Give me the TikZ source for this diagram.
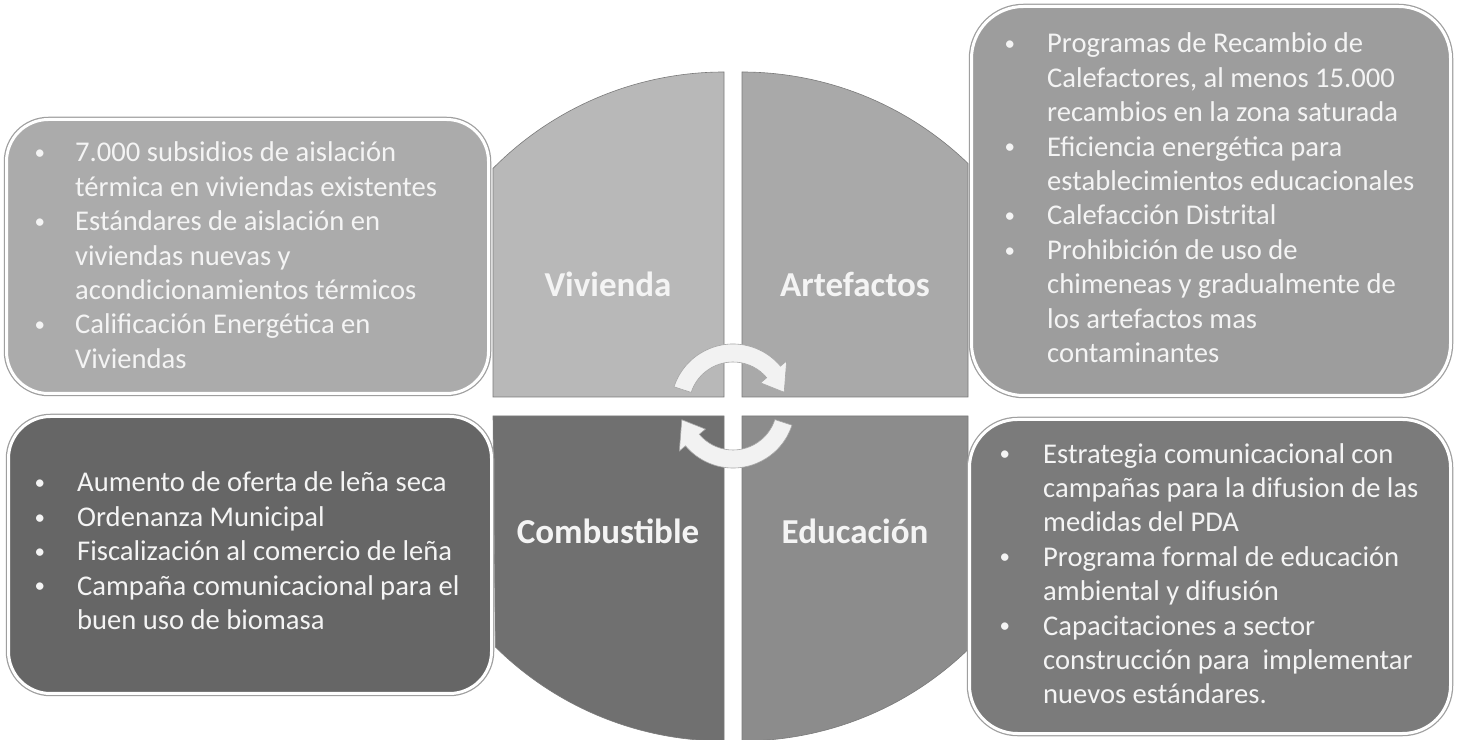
\documentclass[tikz,border=0pt]{standalone}
\usepackage{fontspec}
\setmainfont{Carlito}
\definecolor{qtl}{HTML}{B8B8B8}
\definecolor{qtr}{HTML}{A9A9A9}
\definecolor{qbl}{HTML}{707070}
\definecolor{qbr}{HTML}{8C8C8C}
\definecolor{btl}{HTML}{ABABAB}
\definecolor{btr}{HTML}{9D9D9D}
\definecolor{bbl}{HTML}{666666}
\definecolor{bbr}{HTML}{7B7B7B}
\definecolor{qedge}{HTML}{7A7A7A}
\definecolor{txt}{HTML}{F4F4F4}
\definecolor{arrowfill}{HTML}{F2F2F2}
\newlength{\bw}
\newcommand{\bi}{\makebox[\bw][l]{\hspace{1.5pt}\raisebox{2.2pt}{\fontsize{21}{21}\selectfont\textbullet}}}
\newcommand{\ii}{\hspace*{\bw}}
\tikzset{
  quad/.style={draw=qedge, line width=0.6pt},
  box/.style={draw=white, line width=3pt, rounded corners=42pt, inner sep=0pt,
    preaction={draw=gray!75, line width=5.5pt}},
  boxtext/.style={anchor=base west, align=left, text=txt, inner sep=0pt,
    font=\fontsize{28.6}{34.4}\selectfont},
  lab/.style={text=txt, font=\fontsize{35}{42}\selectfont\bfseries, inner sep=0pt},
  circarrow/.style={fill=arrowfill, draw=gray!70, line width=0.6pt}
}
\begin{document}
\begin{tikzpicture}[x=1pt,y=1pt]
\useasboundingbox (0,0) rectangle (1459,739);
\clip (0,0) rectangle (1459,739);
\fill[white] (0,0) rectangle (1459,739);

% quadrants
\filldraw[quad, fill=qtl] (724,342) -- (724,667) arc[start angle=90, end angle=135.3, radius=325] -- (493,342) -- cycle;
\filldraw[quad, fill=qtr] (742,342) -- (742,667) arc[start angle=90, end angle=45.94, radius=325] -- (968,342) -- cycle;
\filldraw[quad, fill=qbl] (724,323) -- (724,-2) arc[start angle=270, end angle=225.3, radius=325] -- (493,323) -- cycle;
\filldraw[quad, fill=qbr] (742,323) -- (742,-2) arc[start angle=-90, end angle=-45.94, radius=325] -- (968,323) -- cycle;

% boxes
\node[box, fill=btl, minimum width=482pt, minimum height=274pt] (boxV) at (247.5,482.5) {};
\node[box, fill=btr, minimum width=479pt, minimum height=389pt, rounded corners=52pt] (boxA) at (1211,538) {};
\node[box, fill=bbl, minimum width=483pt, minimum height=277pt] (boxC) at (250,184) {};
\node[box, fill=bbr, minimum width=481pt, minimum height=314pt, rounded corners=48pt] (boxE) at (1210,162.5) {};

% box texts (anchor = baseline of last line)
\setlength{\bw}{42pt}
\node[boxtext] (tV) at (33,370.6) {\bi 7.000 subsidios de aislación\\
\ii térmica en viviendas existentes\\
\bi Estándares de aislación en\\
\ii viviendas nuevas y\\
\ii acondicionamientos térmicos\\
\bi Calificación Energética en\\
\ii Viviendas};
\setlength{\bw}{44pt}
\node[boxtext] (tA) at (1003,376.4) {\bi Programas de Recambio de\\
\ii Calefactores, al menos 15.000\\
\ii recambios en la zona saturada\\
\bi Eficiencia energética para\\
\ii establecimientos educacionales\\
\bi Calefacción Distrital\\
\bi Prohibición de uso de\\
\ii chimeneas y gradualmente de\\
\ii los artefactos mas\\
\ii contaminantes};
\setlength{\bw}{44pt}
\node[boxtext] (tC) at (33,109.4) {\bi Aumento de oferta de leña seca\\
\bi Ordenanza Municipal\\
\bi Fiscalización al comercio de leña\\
\bi Campaña comunicacional para el\\
\ii buen uso de biomasa};
\setlength{\bw}{45pt}
\node[boxtext] (tE) at (998,35.2) {\bi Estrategia comunicacional con\\
\ii campañas para la difusion de las\\
\ii medidas del PDA\\
\bi Programa formal de educación\\
\ii ambiental y difusión\\
\bi Capacitaciones a sector\\
\ii construcción para\ \ implementar\\
\ii nuevos estándares.};

% quadrant labels
\node[lab] (lV) at (608,455) {Vivienda};
\node[lab] (lA) at (855,455) {Artefactos};
\node[lab] (lC) at (608,208) {Combustible};
\node[lab] (lE) at (855,208) {Educación};

% circular arrows
\begin{scope}[shift={(733,333)}]
\filldraw[circarrow] (162:62) arc[start angle=162, end angle=40, radius=62] -- (40:70) -- (15:53) -- (40:36) -- (40:44) arc[start angle=40, end angle=162, radius=44] -- cycle;
\filldraw[circarrow] (-18:62) arc[start angle=-18, end angle=-140, radius=62] -- (-140:70) -- (-165:53) -- (-140:36) -- (-140:44) arc[start angle=-140, end angle=-18, radius=44] -- cycle;
\end{scope}
\end{tikzpicture}
\end{document}
